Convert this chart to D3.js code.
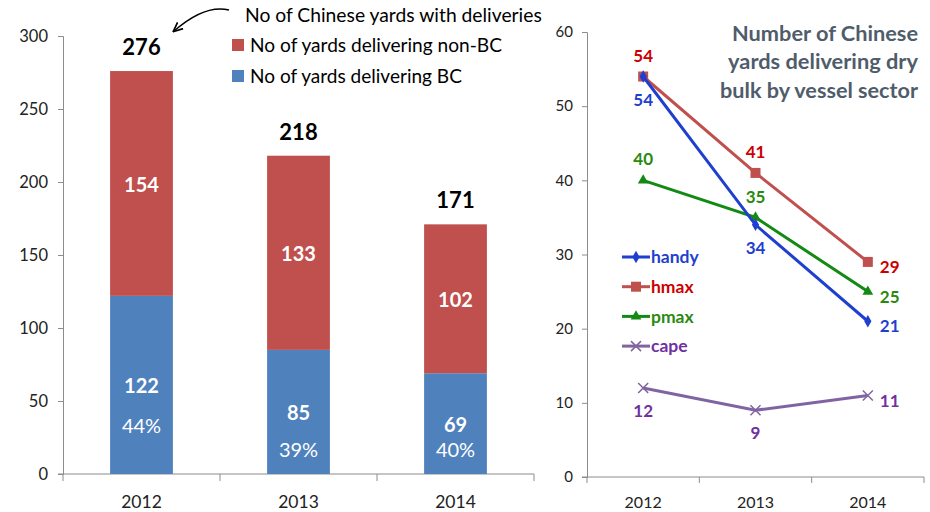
<!DOCTYPE html>
<html><head><meta charset="utf-8">
<script src="https://cdn.jsdelivr.net/npm/d3@7"></script>
<style>
body{margin:0;background:#fff;}
svg{display:block;font-family:Lato,"Open Sans",sans-serif;}
</style></head>
<body><svg id="c" width="930" height="512"></svg>
<script>
// ---- data ----
const years = ["2012", "2013", "2014"];
const bcValues = [122, 85, 69];
const nonBcValues = [154, 133, 102];
const leftTicks = [0, 50, 100, 150, 200, 250, 300];
const handyValues = [54, 34, 21];
const hmaxValues = [54, 41, 29];
const pmaxValues = [40, 35, 25];
const capeValues = [12, 9, 11];
const rightTicks = [0, 10, 20, 30, 40, 50, 60];
const leftTitle = "No of Chinese yards with deliveries";
const legendNonBC = "No of yards delivering non-BC";
const legendBC = "No of yards delivering BC";
const rightTitle = ["Number of Chinese", "yards delivering dry", "bulk by vessel sector"];

const svg = d3.select("#c");
const axisColor = "#8c8c8c";
const tickText = "#222";
const RED = "#C0504D", BLUE = "#4F81BD";

// fit a text element's font size so it spans a target width
function fit(sel, w) {
  const n = sel.node();
  const fs = parseFloat(sel.style("font-size"));
  const cw = n.getComputedTextLength();
  if (cw > 0) sel.style("font-size", (fs * w / cw).toFixed(2) + "px");
  return sel;
}

// ---------- LEFT CHART ----------
const L = {x0: 63, x1: 534, y0: 474, y1: 36};
const xL = d3.scaleBand().domain(years).range([L.x0, L.x1]).paddingInner(0.6).paddingOuter(0.3);
const yL = d3.scaleLinear().domain([0, 300]).range([L.y0, L.y1]);
const gL = svg.append("g");

const yAxL = gL.append("g").attr("transform", `translate(${L.x0},0)`)
  .call(d3.axisLeft(yL).tickValues(leftTicks).tickSize(5).tickPadding(10));
yAxL.select(".domain").attr("stroke", axisColor);
yAxL.selectAll(".tick line").attr("stroke", axisColor);
yAxL.selectAll("text").attr("fill", tickText).style("font-size", "16.5px").style("font-family", "Lato,sans-serif");

const xStepL = (L.x1 - L.x0) / years.length;
gL.append("line").attr("x1", L.x0 - 5).attr("x2", L.x1).attr("y1", L.y0).attr("y2", L.y0).attr("stroke", axisColor);
d3.range(years.length + 1).forEach(i => {
  gL.append("line").attr("x1", L.x0 + i * xStepL).attr("x2", L.x0 + i * xStepL)
    .attr("y1", L.y0).attr("y2", L.y0 + 7).attr("stroke", axisColor);
});
gL.selectAll(".xl").data(years).enter().append("text")
  .attr("x", d => xL(d) + xL.bandwidth() / 2).attr("y", 502).attr("dy", "0.36em")
  .attr("text-anchor", "middle").attr("fill", tickText).style("font-size", "17.5px").text(d => d);

const barData = years.map((y, i) => ({year: y, bc: bcValues[i], nbc: nonBcValues[i], total: bcValues[i] + nonBcValues[i]}));
gL.selectAll(".bcbar").data(barData).enter().append("rect")
  .attr("x", d => xL(d.year)).attr("width", xL.bandwidth())
  .attr("y", d => yL(d.bc)).attr("height", d => yL(0) - yL(d.bc)).attr("fill", BLUE);
gL.selectAll(".nbcbar").data(barData).enter().append("rect")
  .attr("x", d => xL(d.year)).attr("width", xL.bandwidth())
  .attr("y", d => yL(d.total)).attr("height", d => yL(d.bc) - yL(d.total)).attr("fill", RED);

const cx = d => xL(d.year) + xL.bandwidth() / 2;
gL.selectAll(".tot").data(barData).enter().append("text")
  .attr("x", cx).attr("y", d => yL(d.total) - 24).attr("dy", "0.36em").attr("text-anchor", "middle")
  .attr("font-weight", "bold").style("font-size", "22px").attr("fill", "#000").text(d => d.total);
gL.selectAll(".nbcl").data(barData).enter().append("text")
  .attr("x", cx).attr("y", d => (yL(d.total) + yL(d.bc)) / 2 + 1).attr("dy", "0.36em").attr("text-anchor", "middle")
  .attr("font-weight", "bold").style("font-size", "20px").attr("fill", "#fff").text(d => d.nbc);
const bcMid = d => (yL(d.bc) + yL(0)) / 2;
gL.selectAll(".bcl").data(barData).enter().append("text")
  .attr("x", cx).attr("y", d => bcMid(d) + 1).attr("dy", "0.36em").attr("text-anchor", "middle")
  .attr("font-weight", "bold").style("font-size", "20px").attr("fill", "#fff").text(d => d.bc);
gL.selectAll(".pct").data(barData).enter().append("text")
  .attr("x", cx).attr("y", d => Math.min(bcMid(d) + 41, yL(0) - 24)).attr("dy", "0.36em").attr("text-anchor", "middle")
  .style("font-size", "20px").attr("fill", "#fff").text(d => Math.round(d.bc / d.total * 100) + "%");

// legend
fit(gL.append("text").attr("x", 245).attr("y", 15).attr("dy", "0.36em").style("font-size", "17px").attr("fill", "#000").text(leftTitle), 297);
gL.append("rect").attr("x", 232).attr("y", 39).attr("width", 12).attr("height", 12).attr("fill", RED);
fit(gL.append("text").attr("x", 250).attr("y", 45).attr("dy", "0.36em").style("font-size", "17px").attr("fill", "#000").text(legendNonBC), 252);
gL.append("rect").attr("x", 232).attr("y", 70).attr("width", 12).attr("height", 12).attr("fill", BLUE);
fit(gL.append("text").attr("x", 250).attr("y", 76).attr("dy", "0.36em").style("font-size", "17px").attr("fill", "#000").text(legendBC), 212);
const defs = svg.append("defs");
defs.append("marker").attr("id", "ah").attr("viewBox", "0 0 10 10").attr("refX", 8).attr("refY", 5)
  .attr("markerWidth", 7).attr("markerHeight", 7).attr("orient", "auto-start-reverse")
  .append("path").attr("d", "M0,1 L9,5 L0,9").attr("fill", "none").attr("stroke", "#000").attr("stroke-width", 1.6);
gL.append("path").attr("d", "M229,10 Q205,4 174,31").attr("fill", "none").attr("stroke", "#000")
  .attr("stroke-width", 1.5).attr("marker-end", "url(#ah)");

// ---------- RIGHT CHART ----------
const R = {x0: 587, x1: 924, y0: 477, y1: 32};
const xR = d3.scaleBand().domain(years).range([R.x0, R.x1]);
const yR = d3.scaleLinear().domain([0, 60]).range([R.y0, R.y1]);
const gR = svg.append("g");
const yAxR = gR.append("g").attr("transform", `translate(${R.x0},0)`)
  .call(d3.axisLeft(yR).tickValues(rightTicks).tickSize(5).tickPadding(9));
yAxR.select(".domain").attr("stroke", axisColor);
yAxR.selectAll(".tick line").attr("stroke", axisColor);
yAxR.selectAll("text").attr("fill", tickText).style("font-size", "15px").style("font-family", "Lato,sans-serif");
gR.append("line").attr("x1", R.x0 - 5).attr("x2", R.x1).attr("y1", R.y0).attr("y2", R.y0).attr("stroke", axisColor);
d3.range(years.length + 1).forEach(i => {
  const x = R.x0 + i * xR.step();
  gR.append("line").attr("x1", x).attr("x2", x).attr("y1", R.y0).attr("y2", R.y0 + 6).attr("stroke", axisColor);
});
gR.selectAll(".xr").data(years).enter().append("text")
  .attr("x", d => xR(d) + xR.bandwidth() / 2).attr("y", 502).attr("dy", "0.36em")
  .attr("text-anchor", "middle").attr("fill", tickText).style("font-size", "16px").text(d => d);

const titleW = [186, 190, 198];
rightTitle.forEach((t, i) => {
  fit(gR.append("text").attr("x", 918).attr("y", 33 + i * 28.5).attr("dy", "0.36em").attr("text-anchor", "end")
    .attr("font-weight", "bold").style("font-size", "19px").attr("fill", "#4f5d6b").text(t), titleW[i]);
});

const series = [
  {name: "cape", values: capeValues, line: "#8064A2", text: "#7030A0", marker: "x", pos: "below"},
  {name: "pmax", values: pmaxValues, line: "#138A13", text: "#2A8A10", marker: "tri", pos: "above"},
  {name: "hmax", values: hmaxValues, line: "#C0504D", text: "#CC0000", marker: "sq", pos: "above"},
  {name: "handy", values: handyValues, line: "#1F3FCF", text: "#1F3FCF", marker: "dia", pos: "below"}
];
const px = i => xR(years[i]) + xR.bandwidth() / 2;
function drawMarker(g, type, x, y, color) {
  if (type === "sq") g.append("rect").attr("x", x - 5).attr("y", y - 5).attr("width", 10).attr("height", 10).attr("fill", color);
  else if (type === "dia") g.append("path").attr("d", d3.symbol(d3.symbolDiamond, 45)()).attr("transform", `translate(${x},${y})`).attr("fill", color);
  else if (type === "tri") g.append("path").attr("d", d3.symbol(d3.symbolTriangle, 50)()).attr("transform", `translate(${x},${y})`).attr("fill", color);
  else if (type === "x") g.append("path").attr("d", `M${x - 5},${y - 5}L${x + 5},${y + 5}M${x - 5},${y + 5}L${x + 5},${y - 5}`).attr("stroke", color).attr("stroke-width", 1.5).attr("fill", "none");
}
const line = d3.line().x((d, i) => px(i)).y(d => yR(d));
series.forEach(s => {
  gR.append("path").datum(s.values).attr("d", line).attr("fill", "none").attr("stroke", s.line).attr("stroke-width", 3);
  s.values.forEach((v, i) => drawMarker(gR, s.marker, px(i), yR(v), s.line));
  s.values.forEach((v, i) => {
    const last = i === s.values.length - 1;
    gR.append("text")
      .attr("x", last ? px(i) + 12 : px(i))
      .attr("y", last ? yR(v) + 5 : (s.pos === "above" ? yR(v) - 21 : yR(v) + 23))
      .attr("dy", "0.36em").attr("text-anchor", last ? "start" : "middle")
      .attr("font-weight", "bold").style("font-size", "17px").attr("fill", s.text).text(v);
  });
});
const legOrder = ["handy", "hmax", "pmax", "cape"];
legOrder.forEach((n, i) => {
  const s = series.find(d => d.name === n);
  const y = 257 + i * 29.7;
  gR.append("line").attr("x1", 622).attr("x2", 650).attr("y1", y).attr("y2", y).attr("stroke", s.line).attr("stroke-width", 3);
  drawMarker(gR, s.marker, 636, y, s.line);
  gR.append("text").attr("x", 651).attr("y", y).attr("dy", "0.36em").attr("font-weight", "bold")
    .style("font-size", "17.5px").attr("fill", s.text).text(n);
});
</script></body></html>
